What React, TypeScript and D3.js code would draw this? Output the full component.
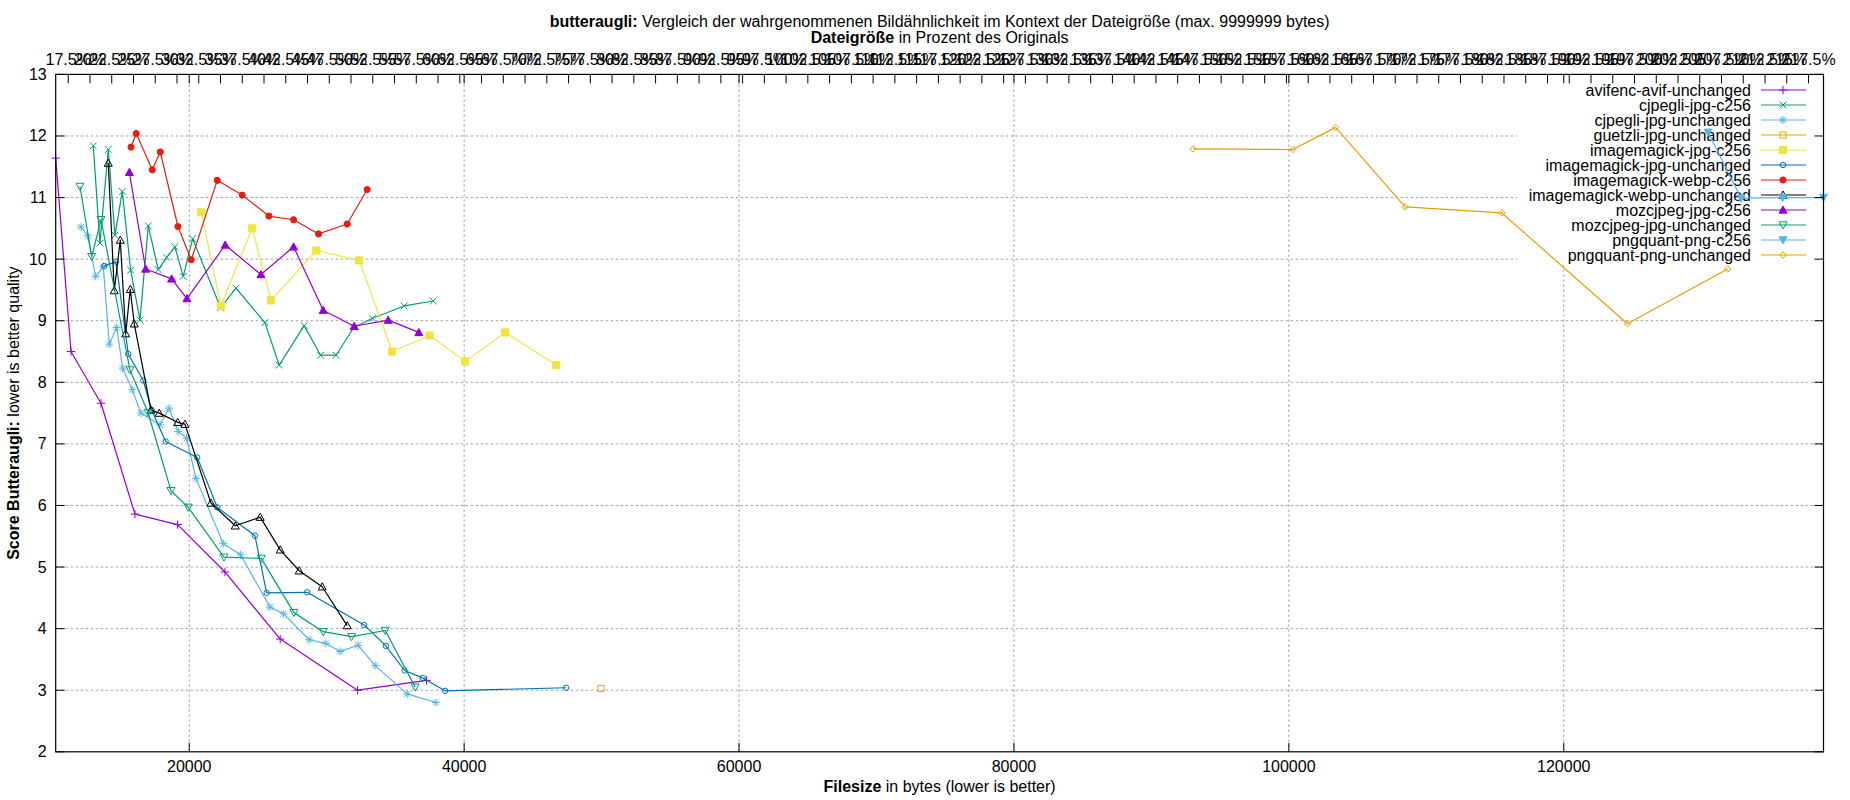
import React from 'react';
import * as d3 from 'd3';

const W = 1850;
const H = 800;
const PL = 55.7, PR = 1823.5, PT = 74.4, PB = 751.8;
const FONT = '"Liberation Sans", Arial, sans-serif';

// ---- data (filesize in bytes, butteraugli score) ----
const avifX = [10284, 11396, 13578, 16051, 19156, 22596, 26618, 32247, 37265];
const avifY = [11.64, 8.5, 7.66, 5.86, 5.69, 4.92, 3.83, 3.0, 3.16];

const cjpegliC256X = [13018, 13505, 14109, 14596, 15127, 15738, 16415, 17018, 17745, 18356, 18960, 19564, 20247, 22284, 23396, 25505, 26545, 28364, 29556, 30676, 31978, 33338, 35636, 37745];
const cjpegliC256Y = [11.84, 10.26, 11.78, 10.39, 11.1, 9.82, 9.01, 10.54, 9.83, 10.03, 10.2, 9.72, 10.33, 9.21, 9.53, 8.97, 8.28, 8.92, 8.44, 8.44, 8.89, 9.04, 9.24, 9.32];

const cjpegliUnchX = [12124, 12611, 13193, 13745, 14182, 14720, 15156, 15855, 16487, 17869, 18524, 19200, 19811, 20487, 22473, 23738, 25869, 26865, 28727, 29942, 30982, 32291, 33527, 35855, 37942];
const cjpegliUnchY = [10.52, 10.38, 9.72, 9.88, 8.62, 8.89, 8.23, 7.88, 7.5, 7.31, 7.58, 7.2, 7.09, 6.44, 5.38, 5.2, 4.35, 4.24, 3.82, 3.76, 3.63, 3.73, 3.4, 2.94, 2.8];

const guetzliX = [49964];
const guetzliY = [3.03];

const imJpgC256X = [20880, 22305, 24582, 25942, 29244, 32364, 34764, 37480, 40073, 42982, 46691];
const imJpgC256Y = [10.76, 9.24, 10.5, 9.33, 10.14, 9.98, 8.5, 8.76, 8.34, 8.81, 8.28];

const imJpgUnchX = [13818, 14669, 15564, 16655, 17265, 18284, 20582, 22036, 24778, 25629, 28582, 32727, 34305, 35665, 36975, 38618, 47418];
const imJpgUnchY = [9.89, 9.96, 8.46, 8.03, 7.55, 7.04, 6.78, 5.97, 5.51, 4.58, 4.59, 4.06, 3.72, 3.32, 3.2, 2.99, 3.04];

const imWebpC256X = [15767, 16145, 17309, 17891, 19178, 20145, 22036, 23855, 25796, 27593, 29411, 31491, 32945];
const imWebpC256Y = [11.82, 12.04, 11.45, 11.74, 10.53, 9.99, 11.28, 11.04, 10.7, 10.64, 10.41, 10.57, 11.13];

const imWebpUnchX = [14109, 14545, 14982, 15375, 15709, 16000, 17215, 17818, 19156, 19687, 21578, 23345, 25164, 26618, 28000, 29673, 31491];
const imWebpUnchY = [11.56, 9.49, 10.31, 8.79, 9.51, 8.95, 7.55, 7.5, 7.35, 7.32, 6.04, 5.67, 5.81, 5.28, 4.94, 4.68, 4.05];

const mozC256X = [15644, 16829, 18720, 19833, 22618, 25215, 27593, 29745, 32000, 34473, 36705];
const mozC256Y = [11.41, 9.84, 9.68, 9.36, 10.23, 9.75, 10.2, 9.17, 8.91, 9.01, 8.81];

const mozUnchX = [12051, 12902, 13578, 15687, 17000, 18669, 19927, 22524, 25236, 27615, 29745, 31811, 34260, 36436];
const mozUnchY = [11.18, 10.04, 10.64, 8.2, 7.51, 6.24, 5.97, 5.16, 5.14, 4.26, 3.95, 3.87, 3.97, 3.05];

const pngC256X = [130500, 132900, 135916, 138898];
const pngC256Y = [12.06, 10.99, 11.0, 11.0];

const pngUnchX = [93031, 100292, 103403, 108460, 115494, 124635, 131929];
const pngUnchY = [11.79, 11.78, 12.14, 10.85, 10.75, 8.95, 9.84];

const seriesNames = [
  'avifenc-avif-unchanged',
  'cjpegli-jpg-c256',
  'cjpegli-jpg-unchanged',
  'guetzli-jpg-unchanged',
  'imagemagick-jpg-c256',
  'imagemagick-jpg-unchanged',
  'imagemagick-webp-c256',
  'imagemagick-webp-unchanged',
  'mozcjpeg-jpg-c256',
  'mozcjpeg-jpg-unchanged',
  'pngquant-png-c256',
  'pngquant-png-unchanged',
];
const seriesX = [avifX, cjpegliC256X, cjpegliUnchX, guetzliX, imJpgC256X, imJpgUnchX, imWebpC256X, imWebpUnchX, mozC256X, mozUnchX, pngC256X, pngUnchX];
const seriesY = [avifY, cjpegliC256Y, cjpegliUnchY, guetzliY, imJpgC256Y, imJpgUnchY, imWebpC256Y, imWebpUnchY, mozC256Y, mozUnchY, pngC256Y, pngUnchY];
const seriesColors = ['#9400d3', '#009e73', '#56b4e9', '#e69f00', '#f0e442', '#0072b2', '#e51e10', '#000000', '#9400d3', '#009e73', '#56b4e9', '#e69f00'];
const seriesMarkers = ['plus', 'cross', 'star', 'square', 'fsquare', 'circle', 'fcircle', 'tri', 'ftri', 'itri', 'fitri', 'diamond'];

const xTicks = [20000, 40000, 60000, 80000, 100000, 120000];
const yTicks = [2, 3, 4, 5, 6, 7, 8, 9, 10, 11, 12, 13];
const x2Ticks = d3.range(17.5, 217.6, 2.5);

const xScale = d3.scaleLinear().domain([10284, 138898]).range([PL, PR]);
const yScale = d3.scaleLinear().domain([2, 13]).range([PB, PT]);
const x2Scale = d3.scaleLinear().domain([16.06, 219.22]).range([PL, PR]);

function markerPath(type: string): string {
  switch (type) {
    case 'plus': { const s = 4.2; return `M${-s},0H${s}M0,${-s}V${s}`; }
    case 'cross': { const s = 3.4; return `M${-s},${-s}L${s},${s}M${-s},${s}L${s},${-s}`; }
    case 'star': { const s = 4, t = 3; return `M${-s},0H${s}M0,${-s}V${s}M${-t},${-t}L${t},${t}M${-t},${t}L${t},${-t}`; }
    case 'square': { const s = 3; return `M${-s},${-s}H${s}V${s}H${-s}Z`; }
    case 'fsquare': { const s = 3.6; return `M${-s},${-s}H${s}V${s}H${-s}Z`; }
    case 'circle': { const r = 2.7; return `M${-r},0A${r},${r} 0 1,0 ${r},0A${r},${r} 0 1,0 ${-r},0Z`; }
    case 'fcircle': { const r = 3.1; return `M${-r},0A${r},${r} 0 1,0 ${r},0A${r},${r} 0 1,0 ${-r},0Z`; }
    case 'tri': case 'ftri': { const s = 4; return `M0,${-s}L${s},${s * 0.8}L${-s},${s * 0.8}Z`; }
    case 'itri': case 'fitri': { const s = 4; return `M0,${s}L${s},${-s * 0.8}L${-s},${-s * 0.8}Z`; }
    case 'diamond': { const s = 3.2; return `M0,${-s}L${s},0L0,${s}L${-s},0Z`; }
    default: return '';
  }
}
const filledMarkers = new Set(['fsquare', 'fcircle', 'ftri', 'fitri']);

function Marker({ type, color, x, y }: { type: string; color: string; x: number; y: number }) {
  const filled = filledMarkers.has(type);
  return (
    <path
      d={markerPath(type)}
      transform={`translate(${x},${y})`}
      fill={filled ? color : 'none'}
      stroke={color}
      strokeWidth={1}
    />
  );
}

const LEG_TEXT_X = 1751;
const LEG_LINE_X1 = 1761;
const LEG_LINE_X2 = 1806;
const LEG_MARK_X = 1783;
const LEG_Y0 = 90;
const LEG_DY = 15;

export default function App() {
  const line = d3.line<[number, number]>().x((d) => xScale(d[0])).y((d) => yScale(d[1]));
  const gridColor = '#a0a0a0';
  const tickLen = 9;

  return (
    <svg width={W} height={H} style={{ position: 'absolute', left: 0, top: 0, background: '#fff' }} fontFamily={FONT} fontSize={16}>
      <rect x={0} y={0} width={W} height={H} fill="#fff" />
      {/* grid */}
      <g stroke={gridColor} strokeWidth={1} strokeDasharray="2.5,2.5">
        {xTicks.map((t) => (
          <line key={'gx' + t} x1={xScale(t)} x2={xScale(t)} y1={PT} y2={PB} />
        ))}
        {yTicks.filter((t) => t > 2 && t < 13).map((t) => (
          <line key={'gy' + t} x1={PL} x2={PR} y1={yScale(t)} y2={yScale(t)} />
        ))}
      </g>
      {/* legend background (occludes grid) */}
      <rect x={1517} y={PT + 1} width={PR - 1517} height={264 - PT} fill="#fff" />
      {/* legend entries */}
      {seriesNames.map((name, i) => {
        const y = LEG_Y0 + i * LEG_DY;
        return (
          <g key={'leg' + name}>
            <text x={LEG_TEXT_X} y={y} textAnchor="end" dominantBaseline="central" fill="#000">{name}</text>
            <line x1={LEG_LINE_X1} x2={LEG_LINE_X2} y1={y} y2={y} stroke={seriesColors[i]} strokeWidth={1.2} />
            <Marker type={seriesMarkers[i]} color={seriesColors[i]} x={LEG_MARK_X} y={y} />
          </g>
        );
      })}
      {/* series */}
      {seriesNames.map((name, i) => {
        const pts: [number, number][] = seriesX[i].map((x, j) => [x, seriesY[i][j]]);
        return (
          <g key={'s' + name}>
            {pts.length > 1 && (
              <path d={line(pts) || ''} fill="none" stroke={seriesColors[i]} strokeWidth={1.2} strokeLinejoin="round" />
            )}
            {pts.map((p, j) => (
              <Marker key={j} type={seriesMarkers[i]} color={seriesColors[i]} x={xScale(p[0])} y={yScale(p[1])} />
            ))}
          </g>
        );
      })}
      {/* border & ticks */}
      <rect x={PL} y={PT} width={PR - PL} height={PB - PT} fill="none" stroke="#000" strokeWidth={1.2} />
      <g stroke="#000" strokeWidth={1}>
        {yTicks.map((t) => (
          <g key={'ty' + t}>
            <line x1={PL} x2={PL + tickLen} y1={yScale(t)} y2={yScale(t)} />
            <line x1={PR} x2={PR - tickLen} y1={yScale(t)} y2={yScale(t)} />
          </g>
        ))}
        {xTicks.map((t) => (
          <g key={'tx' + t}>
            <line x1={xScale(t)} x2={xScale(t)} y1={PB} y2={PB - tickLen} />
            <line x1={xScale(t)} x2={xScale(t)} y1={PT} y2={PT + tickLen} />
          </g>
        ))}
        {x2Ticks.map((t) => (
          <line key={'tx2' + t} x1={x2Scale(t)} x2={x2Scale(t)} y1={PT} y2={PT + tickLen} />
        ))}
      </g>
      {/* tick labels */}
      {yTicks.map((t) => (
        <text key={'ly' + t} x={PL - 9} y={yScale(t)} textAnchor="end" dominantBaseline="central">{t}</text>
      ))}
      {xTicks.map((t) => (
        <text key={'lx' + t} x={xScale(t)} y={766} textAnchor="middle" dominantBaseline="central">{t}</text>
      ))}
      {x2Ticks.map((t) => (
        <text key={'lx2' + t} x={x2Scale(t)} y={59} textAnchor="middle" dominantBaseline="central">{`${d3.format('~g')(t)}%`}</text>
      ))}
      {/* titles */}
      <text x={(PL + PR) / 2} y={21} textAnchor="middle" dominantBaseline="central">
        <tspan fontWeight="bold">butteraugli:</tspan> Vergleich der wahrgenommenen Bildähnlichkeit im Kontext der Dateigröße (max. 9999999 bytes)
      </text>
      <text x={(PL + PR) / 2} y={37} textAnchor="middle" dominantBaseline="central">
        <tspan fontWeight="bold">Dateigröße</tspan> in Prozent des Originals
      </text>
      <text x={(PL + PR) / 2} y={786} textAnchor="middle" dominantBaseline="central">
        <tspan fontWeight="bold">Filesize</tspan> in bytes (lower is better)
      </text>
      <text transform={`translate(13,${(PT + PB) / 2}) rotate(-90)`} textAnchor="middle" dominantBaseline="central">
        <tspan fontWeight="bold">Score Butteraugli:</tspan> lower is better quality
      </text>
    </svg>
  );
}
